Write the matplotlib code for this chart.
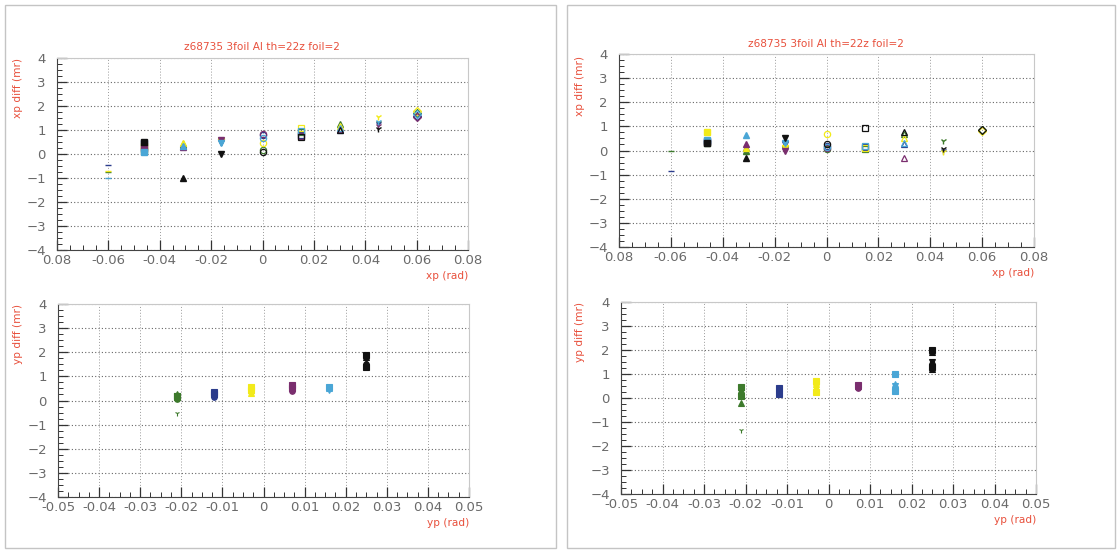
import matplotlib
matplotlib.use("Agg")
import matplotlib.pyplot as plt
from matplotlib.ticker import MultipleLocator
from matplotlib.patches import Rectangle

W, H = 1119, 554

title = "z68735 3foil Al th=22z foil=2"

# yp-bin colours (ROOT-like, scanned)
series_colors = ["#3d7a2c", "#2b3c8c", "#f2ea1a", "#7a2e6e", "#4aa6d6", "#111111"]

# xp bins and markers for the top panels
xp_bins = [-0.060, -0.046, -0.031, -0.016, 0.000, 0.015, 0.030, 0.045, 0.060]
xp_markers = ["_", "s", "^", "v", "o", "s", "^", "1", "D"]
xp_filled = [True, True, True, True, False, False, False, True, False]

# xp diff values (mr) per xp bin, per yp colour [green, blue, yellow, purple, cyan, black]
xpdiff_left = [
    [-0.75, -0.45, -0.70, None, -1.00, None],
    [0.15, 0.45, 0.35, 0.25, 0.10, 0.50],
    [0.40, 0.35, 0.45, 0.30, 0.35, -1.00],
    [0.50, 0.50, 0.55, 0.60, 0.45, 0.00],
    [0.15, 0.80, 0.45, 0.85, 0.65, 0.10],
    [0.90, 0.80, 1.10, 0.75, 0.95, 0.70],
    [1.25, 1.00, 1.15, 1.05, 1.10, 1.00],
    [1.30, 1.25, 1.55, 1.15, 1.35, 1.05],
    [1.70, 1.60, 1.80, 1.55, 1.65, None],
]
xpdiff_right = [
    [0.00, -0.85, None, None, None, None],
    [0.30, 0.40, 0.75, 0.35, 0.45, 0.30],
    [0.00, 0.10, 0.10, 0.25, 0.65, -0.30],
    [0.05, 0.25, 0.10, 0.00, 0.30, 0.50],
    [0.05, 0.20, 0.70, 0.10, 0.15, 0.25],
    [0.05, 0.15, 0.10, None, 0.20, 0.95],
    [0.70, 0.25, 0.50, -0.30, 0.30, 0.75],
    [0.40, 0.00, -0.05, None, None, 0.05],
    [0.85, None, 0.80, None, None, 0.85],
]

# yp bins for bottom panels, and yp diff values (mr)
yp_bins = [-0.021, -0.012, -0.003, 0.007, 0.016, 0.025]
ypdiff_left = [
    [0.20, 0.15, 0.10, 0.05, 0.20, 0.25, -0.50],
    [0.35, 0.30, 0.20, 0.15, 0.25, 0.30],
    [0.55, 0.50, 0.40, 0.35, 0.45, 0.30],
    [0.65, 0.55, 0.45, 0.40, 0.50],
    [0.55, 0.50, 0.45],
    [1.90, 1.80, 1.70, 1.50, 1.40],
]
ypdiff_right = [
    [0.45, 0.35, 0.25, 0.15, 0.10, -0.20, -1.35],
    [0.40, 0.35, 0.30, 0.20, 0.15],
    [0.70, 0.60, 0.45, 0.35, 0.25],
    [0.55, 0.50, 0.45, 0.40],
    [1.00, 0.60, 0.50, 0.40, 0.30],
    [2.00, 1.90, 1.50, 1.40, 1.30, 1.20],
]
yp_markers = ["s", "^", "v", "o", "s", "^", "1"]

top_xticks = [-0.08, -0.06, -0.04, -0.02, 0.0, 0.02, 0.04, 0.06, 0.08]
top_xlabels = ["0.08", "-0.06", "-0.04", "-0.02", "0", "0.02", "0.04", "0.06", "0.08"]
bot_xticks = [-0.05, -0.04, -0.03, -0.02, -0.01, 0.0, 0.01, 0.02, 0.03, 0.04, 0.05]
bot_xlabels = ["-0.05", "-0.04", "-0.03", "-0.02", "-0.01", "0",
               "0.01", "0.02", "0.03", "0.04", "0.05"]
yticks = [-4, -3, -2, -1, 0, 1, 2, 3, 4]

red = "#e8503c"
tickc = "#6a6a6a"

fig = plt.figure(figsize=(W / 100, H / 100), dpi=100)
fig.patch.set_facecolor("white")

# outer frames
for (l, r) in [(5, 556), (567, 1115)]:
    fig.patches.append(Rectangle((l / W, 1 - 548 / H), (r - l) / W, (548 - 5) / H,
                                 transform=fig.transFigure, fill=False,
                                 edgecolor="#c4c4c4", lw=1.0))


def make_ax(l, r, t, b):
    return fig.add_axes([l / W, 1 - b / H, (r - l) / W, (b - t) / H])


def style(ax, xlim, xticks, xlabels, xminor):
    ax.set_xlim(*xlim)
    ax.set_ylim(-4, 4)
    ax.set_xticks(xticks)
    ax.set_xticklabels(xlabels)
    ax.xaxis.set_minor_locator(MultipleLocator(xminor))
    ax.set_yticks(yticks)
    ax.yaxis.set_minor_locator(MultipleLocator(0.25))
    ax.tick_params(which="both", direction="in", top=False, right=False,
                   colors="#333333", labelcolor=tickc, labelsize=9.5)
    ax.tick_params(axis="x", which="major", length=7, width=0.9, pad=3)
    ax.tick_params(axis="y", which="major", length=7, width=0.9, pad=8)
    ax.tick_params(which="minor", length=3.5, width=0.7)
    for s in ax.spines.values():
        s.set_color("#c8c8c8")
        s.set_linewidth(0.8)
    ax.spines["left"].set_color("#444444")
    ax.spines["bottom"].set_color("#444444")
    ax.grid(True, axis="y", which="major", linestyle=(0, (1, 2)), color="#666666", lw=0.8)
    ax.grid(True, axis="x", which="major", linestyle=(0, (1, 2)), color="#9a9a9a", lw=0.7)
    ax.set_axisbelow(True)


def top_panel(ax, data):
    style(ax, (-0.08, 0.08), top_xticks, top_xlabels, 0.005)
    for i, xb in enumerate(xp_bins):
        for j, v in enumerate(data[i]):
            if v is None:
                continue
            c = series_colors[j]
            if xp_filled[i]:
                ax.plot(xb, v, marker=xp_markers[i], color=c, ms=4.5, mew=1.0, ls="none")
            else:
                ax.plot(xb, v, marker=xp_markers[i], mfc="none", mec=c, ms=4.5, mew=0.9, ls="none")


def bottom_panel(ax, data):
    style(ax, (-0.05, 0.05), bot_xticks, bot_xlabels, 0.0025)
    for j, xb in enumerate(yp_bins):
        c = series_colors[j]
        for k, v in enumerate(data[j]):
            ax.plot(xb, v, marker=yp_markers[k % len(yp_markers)], color=c,
                    ms=4.0, mew=0.8, ls="none")


ax1 = make_ax(57, 468, 58, 250)
top_panel(ax1, xpdiff_left)
ax2 = make_ax(619, 1034, 54, 247)
top_panel(ax2, xpdiff_right)
ax3 = make_ax(58, 469, 304, 497)
bottom_panel(ax3, ypdiff_left)
ax4 = make_ax(621, 1036, 302, 494)
bottom_panel(ax4, ypdiff_right)


def ftext(x, y, s, size=7.6, **kw):
    fig.text(x / W, 1 - y / H, s, color=red, fontsize=size, **kw)


ftext(262, 47, title, ha="center", va="center")
ftext(826, 44, title, ha="center", va="center")
ftext(468, 276, "xp (rad)", ha="right", va="center")
ftext(1034, 273, "xp (rad)", ha="right", va="center")
ftext(469, 523, "yp (rad)", ha="right", va="center")
ftext(1036, 520, "yp (rad)", ha="right", va="center")
ftext(18, 58, "xp diff (mr)", ha="center", va="top", rotation=90)
ftext(580, 56, "xp diff (mr)", ha="center", va="top", rotation=90)
ftext(18, 304, "yp diff (mr)", ha="center", va="top", rotation=90)
ftext(580, 302, "yp diff (mr)", ha="center", va="top", rotation=90)

fig.savefig("out.png", dpi=100, facecolor="white")
